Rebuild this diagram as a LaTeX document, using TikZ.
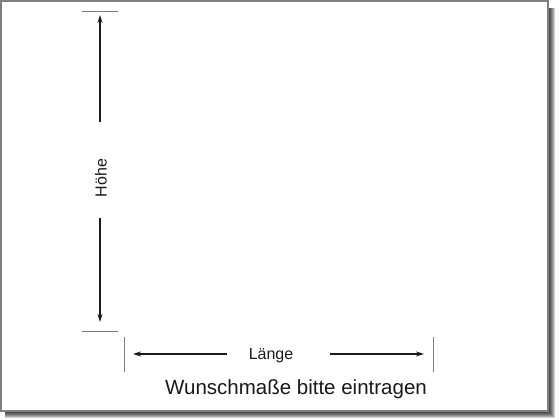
\documentclass[tikz,border=0pt]{standalone}
\usepackage{fontspec}
\setmainfont{Liberation Sans}
\usetikzlibrary{arrows.meta}
\definecolor{ink}{HTML}{1A1A1A}
\definecolor{rahmen}{HTML}{7F7F7F}
\def\sheet{(1,9) rectangle (548,419)}
\tikzset{
  dimline/.style={ink,line width=1.3pt,-{Stealth[length=8pt,width=5pt]}},
  tickline/.style={rahmen,line width=1pt},
  dimlabel/.style={text=ink,font=\fontsize{16}{18}\selectfont,inner sep=0pt}
}
\begin{document}
\begin{tikzpicture}[x=1pt,y=1pt]
        \useasboundingbox (0,0) rectangle (560,420);
        % shadow of the sheet
        \foreach \d in {1,...,7}
          \fill[black,opacity=0.18] (5,9-\d) rectangle (548+\d,412);
        \fill[white] \sheet;
        \draw[rahmen,line width=1.5pt] \sheet;
        % height
        \draw[tickline] (82,408) -- (118,408);
        \draw[tickline] (82,88) -- (118,88);
        \node[dimlabel,rotate=90] (hoehe) at (101,242) {Höhe};
        \coordinate (htop) at (100,405);
        \coordinate (hbot) at (100,98);
        \draw[dimline] (100,298) -- (htop);
        \draw[dimline] (100,202) -- (hbot);
        % length
        \draw[tickline] (124,83) -- (124,48);
        \draw[tickline] (433,83) -- (433,48);
        \node[dimlabel,anchor=base] (laenge) at (271,60) {Länge};
        \coordinate (lleft) at (133,66);
        \coordinate (lright) at (424,66);
        \draw[dimline] (227,66) -- (lleft);
        \draw[dimline] (330,66) -- (lright);
        \node[dimlabel,anchor=base,font=\fontsize{20.5}{24}\selectfont] (hinweis) at (296,25) {Wunschmaße bitte eintragen};
\end{tikzpicture}
\end{document}
